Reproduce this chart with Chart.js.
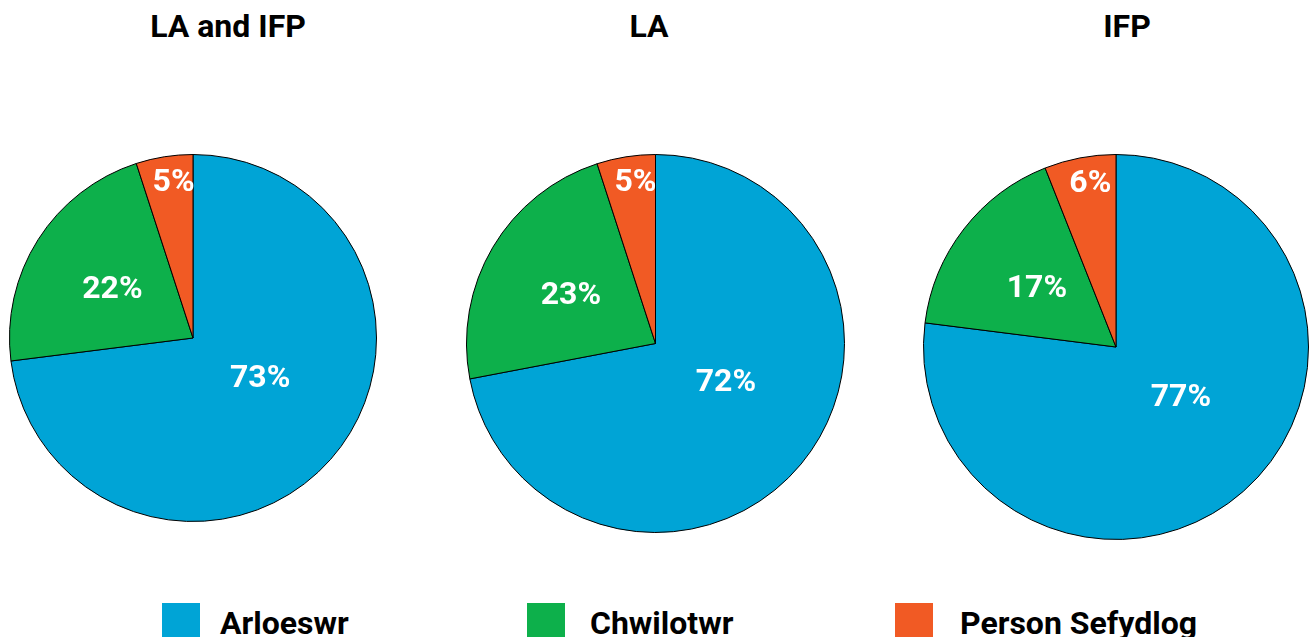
<!DOCTYPE html>
<html>
<head>
<meta charset="utf-8">
<script src="https://cdn.jsdelivr.net/npm/chart.js@4.4.1/dist/chart.umd.min.js"></script>
<style>
  html, body { margin: 0; padding: 0; background: #fff; overflow: hidden; }
  #wrap { position: relative; width: 1311px; height: 637px; font-family: Roboto, "Noto Sans", sans-serif; }
  canvas { position: absolute; top: 154px; }
  .title { position: absolute; top: 10px; font-weight: bold; font-size: 32px; line-height: 32px; color: #000; transform: translateX(-50%); white-space: nowrap; }
  .sw { position: absolute; top: 603px; width: 38px; height: 38px; }
  .lt { position: absolute; top: 607px; font-weight: bold; font-size: 32px; line-height: 32px; color: #000; white-space: nowrap; }
</style>
</head>
<body>
<div id="wrap">
  <canvas id="pie0" width="368" height="368" style="left:9px"></canvas>
  <canvas id="pie1" width="379" height="379" style="left:466px"></canvas>
  <canvas id="pie2" width="386" height="386" style="left:923px"></canvas>
</div>
<script>
// share of respondents per group (percent)
const titles = ['LA and IFP', 'LA', 'IFP'];
const categories = ['Arloeswr', 'Chwilotwr', 'Person Sefydlog'];
const laAndIfp = [73, 22, 5];
const la = [72, 23, 5];
const ifp = [77, 17, 6];
const colors = ['#00a4d6', '#0db04b', '#f15a24'];

const series = [laAndIfp, la, ifp];
const titleX = [228, 649, 1127];
const swatchX = [162, 527, 895];
const textX = [220, 590, 960];
// label placement: fraction of radius along the slice middle, plus a small turn (deg)
const labelDist = [0.42, 0.52, 0.87];
const labelTurn = [-12, 0, 2];

const wrap = document.getElementById('wrap');

titles.forEach((t, i) => {
  const d = document.createElement('div');
  d.className = 'title';
  d.style.left = titleX[i] + 'px';
  d.textContent = t;
  wrap.appendChild(d);
});

categories.forEach((c, i) => {
  const s = document.createElement('div');
  s.className = 'sw';
  s.style.left = swatchX[i] + 'px';
  s.style.background = colors[i];
  wrap.appendChild(s);
  const t = document.createElement('div');
  t.className = 'lt';
  t.style.left = textX[i] + 'px';
  t.textContent = c;
  wrap.appendChild(t);
});

// white percent labels inside the slices
const sliceLabels = {
  id: 'sliceLabels',
  afterDatasetsDraw(chart) {
    const ctx = chart.ctx;
    const meta = chart.getDatasetMeta(0);
    const data = chart.data.datasets[0].data;
    ctx.save();
    ctx.font = 'bold 32px Roboto';
    ctx.fillStyle = '#fff';
    ctx.textAlign = 'center';
    ctx.textBaseline = 'alphabetic';
    meta.data.forEach((arc, i) => {
      const mid = (arc.startAngle + arc.endAngle) / 2 + labelTurn[i] * Math.PI / 180;
      const r = arc.outerRadius * labelDist[i];
      const x = arc.x + Math.cos(mid) * r;
      const y = arc.y + Math.sin(mid) * r;
      ctx.fillText(data[i] + '%', x, y + 11);
    });
    ctx.restore();
  }
};

series.forEach((vals, i) => {
  new Chart(document.getElementById('pie' + i), {
    type: 'pie',
    data: {
      labels: categories,
      datasets: [{
        data: vals,
        backgroundColor: colors,
        borderColor: '#000',
        borderWidth: 1
      }]
    },
    options: {
      responsive: false,
      animation: false,
      layout: { padding: 0 },
      plugins: {
        legend: { display: false },
        tooltip: { enabled: false },
        title: { display: false }
      }
    },
    plugins: [sliceLabels]
  });
});
</script>
</body>
</html>
